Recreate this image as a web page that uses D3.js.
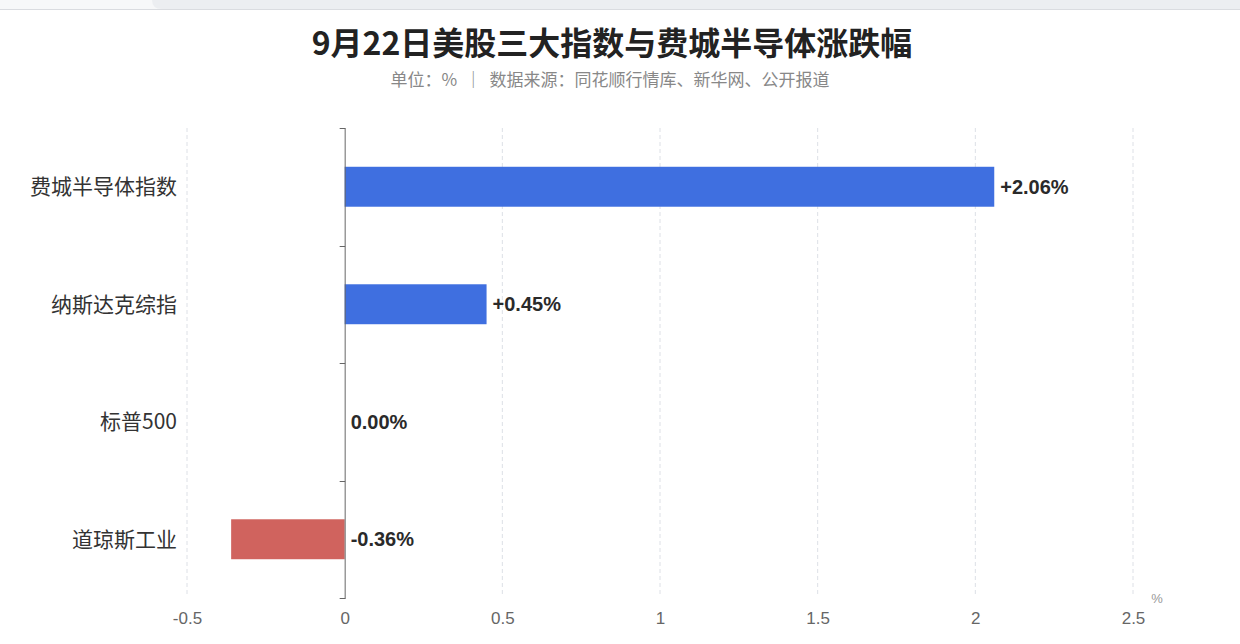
<!DOCTYPE html>
<html>
<head>
<meta charset="utf-8">
<script src="https://cdn.jsdelivr.net/npm/d3@7"></script>
<style>
  body { margin: 0; background: #fff; }
  svg { display: block; font-family: "Noto Sans CJK SC", "Noto Sans", sans-serif; }
</style>
</head>
<body>
<div class="chart"></div>
<script>
const categories = ['费城半导体指数', '纳斯达克综指', '标普500', '道琼斯工业'];
const changes = [2.06, 0.45, 0.00, -0.36];
const valueLabels = ['+2.06%', '+0.45%', '0.00%', '-0.36%'];
const xTicks = [-0.5, 0, 0.5, 1, 1.5, 2, 2.5];

const width = 1240;
const height = 644;
const margin = { top: 128, right: 107, bottom: 46, left: 187 };

const svg = d3.select('.chart').append('svg')
    .attr('width', width)
    .attr('height', height);

// browser tab strip at the top of the screenshot
svg.append('rect').attr('x', 0).attr('y', 0).attr('width', width).attr('height', 9).attr('fill', '#f7f8f9');
svg.append('path')
    .attr('d', 'M152,0 L1240,0 L1240,9 L162,9 Q152,9 152,0 Z')
    .attr('fill', '#eceef1');
svg.append('line').attr('x1', 0).attr('x2', width).attr('y1', 9.5).attr('y2', 9.5)
    .attr('stroke', '#dadce0');

// title
svg.append('text')
    .attr('x', 612).attr('y', 55)
    .attr('text-anchor', 'middle')
    .attr('font-size', 32)
    .attr('font-weight', 'bold')
    .attr('fill', '#222')
    .text('9月22日美股三大指数与费城半导体涨跌幅');

svg.append('text')
    .attr('x', 610).attr('y', 86)
    .attr('text-anchor', 'middle')
    .attr('font-size', 17)
    .attr('fill', '#888')
    .attr('xml:space', 'preserve')
    .style('white-space', 'pre')
    .text('单位：%  ｜  数据来源：同花顺行情库、新华网、公开报道');

const xScale = d3.scaleLinear()
    .domain([-0.5, 2.5])
    .range([margin.left, width - margin.right]);

const yScale = d3.scaleBand()
    .domain(categories)
    .range([margin.top, height - margin.bottom])
    .paddingInner(0.66)
    .paddingOuter(0.33);

const bandStep = yScale.step();
const plotTop = margin.top;
const plotBottom = height - margin.bottom;

// dashed vertical gridlines
svg.append('g')
    .selectAll('line')
    .data(xTicks.filter(d => d !== 0))
    .join('line')
    .attr('x1', d => xScale(d))
    .attr('x2', d => xScale(d))
    .attr('y1', plotTop)
    .attr('y2', plotBottom - 2)
    .attr('stroke', '#dde0e6')
    .attr('stroke-dasharray', '4,3');

// x tick labels
const xAxis = svg.append('g')
    .attr('transform', `translate(0, ${plotBottom})`)
    .call(d3.axisBottom(xScale).tickValues(xTicks).tickSize(0).tickPadding(14).tickFormat(d => String(d)));
xAxis.select('.domain').remove();
xAxis.selectAll('text')
    .attr('font-size', 17)
    .attr('fill', '#666')
    .attr('font-family', '"Liberation Sans", Arial, sans-serif');

svg.append('text')
    .attr('x', xScale(2.5) + 24).attr('y', plotBottom + 5)
    .attr('text-anchor', 'middle')
    .attr('font-size', 13)
    .attr('fill', '#999')
    .attr('font-family', '"Liberation Sans", Arial, sans-serif')
    .text('%');

// bars
svg.append('g')
    .selectAll('rect')
    .data(categories)
    .join('rect')
    .attr('x', (d, i) => xScale(Math.min(0, changes[i])))
    .attr('y', d => yScale(d))
    .attr('width', (d, i) => Math.abs(xScale(changes[i]) - xScale(0)))
    .attr('height', yScale.bandwidth())
    .attr('fill', (d, i) => changes[i] < 0 ? '#d0635e' : '#3f6fe0');

// y axis with ticks at band boundaries
const yAxisG = svg.append('g');
yAxisG.append('line')
    .attr('x1', xScale(0) + 0.5).attr('x2', xScale(0) + 0.5)
    .attr('y1', plotTop).attr('y2', plotBottom + 1)
    .attr('stroke', '#666');
yAxisG.selectAll('.ytick')
    .data(d3.range(categories.length + 1))
    .join('line')
    .attr('class', 'ytick')
    .attr('x1', xScale(0) - 5).attr('x2', xScale(0) + 0.5)
    .attr('y1', i => Math.round(plotTop + i * bandStep) + 0.5)
    .attr('y2', i => Math.round(plotTop + i * bandStep) + 0.5)
    .attr('stroke', '#666');

// category labels
svg.append('g')
    .selectAll('text')
    .data(categories)
    .join('text')
    .attr('x', 177)
    .attr('y', d => yScale(d) + yScale.bandwidth() / 2)
    .attr('dy', '0.35em')
    .attr('text-anchor', 'end')
    .attr('font-size', 21)
    .attr('fill', '#333')
    .text(d => d);

// value labels
svg.append('g')
    .selectAll('text')
    .data(categories)
    .join('text')
    .attr('x', (d, i) => Math.max(xScale(0), xScale(changes[i])) + 6)
    .attr('y', d => yScale(d) + yScale.bandwidth() / 2)
    .attr('dy', '0.35em')
    .attr('font-size', 20)
    .attr('font-weight', 'bold')
    .attr('fill', '#2a2a2a')
    .attr('font-family', '"Liberation Sans", Arial, sans-serif')
    .text((d, i) => valueLabels[i]);
</script>
</body>
</html>
